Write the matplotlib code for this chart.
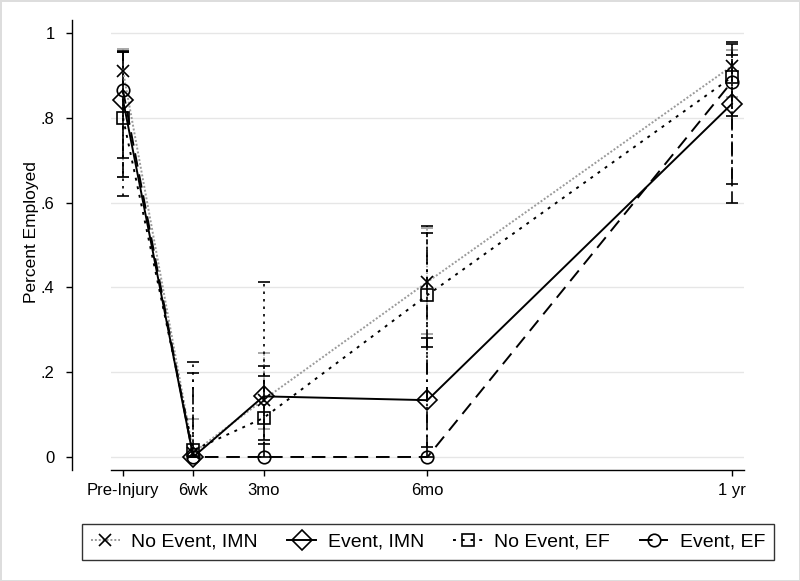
import numpy as np
from matplotlib import pyplot as plt

plt.rcParams['font.family'] = ['Liberation Sans', 'DejaVu Sans']
plt.rcParams['font.size'] = 12

# time points (weeks after injury) and their labels
weeks = [0, 6, 12, 26, 52]
tick_labels = ['Pre-Injury', '6wk', '3mo', '6mo', '1 yr']

# No Event, IMN
ne_imn = [0.910, 0.010, 0.135, 0.413, 0.922]
ne_imn_lo = [0.660, 0.000, 0.066, 0.290, 0.850]
ne_imn_hi = [0.962, 0.090, 0.245, 0.541, 0.960]

# Event, IMN
e_imn = [0.842, 0.000, 0.143, 0.134, 0.833]
e_imn_lo = [0.705, 0.000, 0.040, 0.024, 0.600]
e_imn_hi = [0.955, 0.000, 0.215, 0.280, 0.979]

# No Event, EF
ne_ef = [0.800, 0.016, 0.092, 0.382, 0.896]
ne_ef_lo = [0.615, 0.000, 0.030, 0.260, 0.804]
ne_ef_hi = [0.958, 0.224, 0.413, 0.545, 0.948]

# Event, EF
e_ef = [0.865, 0.000, 0.000, 0.000, 0.885]
e_ef_lo = [0.660, 0.000, 0.000, 0.000, 0.644]
e_ef_hi = [0.955, 0.199, 0.190, 0.528, 0.975]

yticks = [0, 0.2, 0.4, 0.6, 0.8, 1.0]
ytick_labels = ['0', '.2', '.4', '.6', '.8', '1']

fig = plt.figure(figsize=(8, 5.81), dpi=100)
fig.patch.set_edgecolor('#dddddd')
fig.patch.set_linewidth(2)
ax = fig.add_axes([0.13875, 0.19105, 0.79125, 0.77453])

series = [
    # label, y, lo, hi, line color, line dashes, marker, ms, bar color, bar dashes
    ('No Event, IMN', ne_imn, ne_imn_lo, ne_imn_hi, '#9a9a9a', (1, 1), 'x', 9, '#9a9a9a', (1, 1)),
    ('Event, IMN', e_imn, e_imn_lo, e_imn_hi, 'black', None, 'D', 10, 'black', (7, 3, 1.5, 3)),
    ('No Event, EF', ne_ef, ne_ef_lo, ne_ef_hi, 'black', (1.5, 3), 's', 9, 'black', (1.5, 3)),
    ('Event, EF', e_ef, e_ef_lo, e_ef_hi, 'black', (7, 4), 'o', 9, 'black', (9, 3, 1.5, 3)),
]

handles = []
for lab, y, lo, hi, col, dash, mk, ms, bcol, bdash in series:
    vl = ax.vlines(weeks, lo, hi, colors=bcol, linewidth=1.2, zorder=2)
    vl.set_linestyle((0, bdash))
    ax.plot(weeks, lo, ls='none', marker='_', ms=9, mew=1.2, color=bcol, zorder=2)
    ax.plot(weeks, hi, ls='none', marker='_', ms=9, mew=1.2, color=bcol, zorder=2)
    ln, = ax.plot(weeks, y, color=col, lw=1.4, marker=mk, ms=ms, mfc='none',
                  mec='black', mew=1.2, zorder=3, label=lab)
    if dash is not None:
        ln.set_dashes(dash)
    handles.append(ln)

ax.set_xlim(-1.025, 53.03)
ax.set_ylim(-0.0307, 1.0307)

ax.set_yticks(yticks)
ax.set_yticklabels(ytick_labels, rotation=90, va='center')
ax.set_xticks(weeks)
ax.set_xticklabels(tick_labels)
ax.tick_params(axis='both', length=4.5, width=1, color='black', labelsize=12)
ax.tick_params(axis='y', pad=8)
ax.tick_params(axis='x', pad=5)

ax.grid(axis='y', color='#e6e6e6', linewidth=1)
ax.set_axisbelow(True)

ax.spines['top'].set_visible(False)
ax.spines['right'].set_visible(False)
ax.spines['left'].set_position(('outward', 28))
ax.spines['left'].set_linewidth(1)
ax.spines['bottom'].set_linewidth(1)

fig.text(32 / 800, 1 - 232 / 581, 'Percent Employed', rotation=90,
         ha='center', va='center', fontsize=12.5)

leg = fig.legend(handles=handles, loc='center', ncol=4,
                 bbox_to_anchor=(428 / 800, 1 - 542 / 581),
                 frameon=True, fancybox=False, edgecolor='black',
                 handlelength=1.5, handletextpad=0.6, columnspacing=1.5,
                 borderpad=0.45, fontsize=14)
leg.get_frame().set_linewidth(1)

plt.savefig('out.png', dpi=100)
